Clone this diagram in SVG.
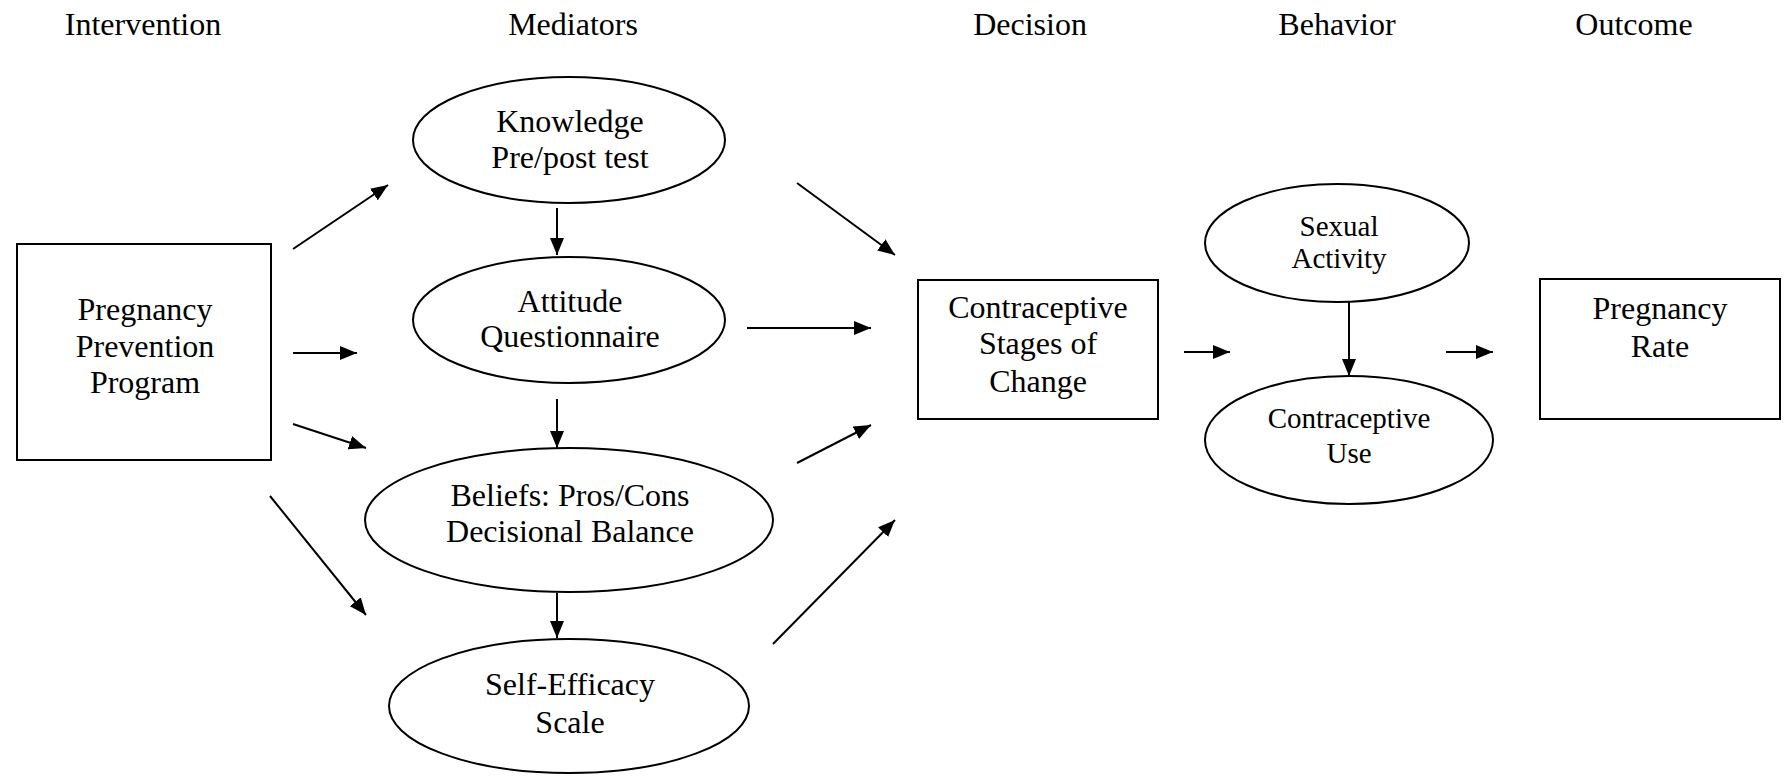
<svg xmlns="http://www.w3.org/2000/svg" width="1788" height="782" viewBox="0 0 1788 782">
<defs>
<marker id="ah" viewBox="0 0 17 14" refX="17" refY="7" markerWidth="17" markerHeight="14" markerUnits="userSpaceOnUse" orient="auto">
<path d="M0,0 L17,7 L0,14 z" fill="#000"/>
</marker>
</defs>
<style>
text{font-family:"Liberation Serif","Times New Roman",serif;font-size:32px;fill:#000;text-anchor:middle}
text.s{font-size:29px}
.n{fill:#fff;stroke:#000;stroke-width:2}
.c line{stroke:#000;stroke-width:2;marker-end:url(#ah)}
</style>
<rect width="1788" height="782" fill="#fff"/>
<g id="headers">
<text x="143" y="35">Intervention</text>
<text x="573" y="35">Mediators</text>
<text x="1030" y="35">Decision</text>
<text x="1337" y="35">Behavior</text>
<text x="1634" y="35">Outcome</text>
</g>
<g id="program">
<rect class="n" x="17" y="244" width="254" height="216"/>
<text x="145" y="320">Pregnancy</text>
<text x="145" y="357">Prevention</text>
<text x="145" y="393">Program</text>
</g>
<g id="knowledge">
<ellipse class="n" cx="569" cy="140" rx="156" ry="63"/>
<text x="570" y="132">Knowledge</text>
<text x="570" y="168">Pre/post test</text>
</g>
<g id="attitude">
<ellipse class="n" cx="569" cy="320" rx="156" ry="63"/>
<text x="570" y="312">Attitude</text>
<text x="570" y="347">Questionnaire</text>
</g>
<g id="beliefs">
<ellipse class="n" cx="569" cy="520" rx="204" ry="72"/>
<text x="570" y="506">Beliefs: Pros/Cons</text>
<text x="570" y="542">Decisional Balance</text>
</g>
<g id="selfefficacy">
<ellipse class="n" cx="569" cy="706" rx="180" ry="67"/>
<text x="570" y="695">Self-Efficacy</text>
<text x="570" y="733">Scale</text>
</g>
<g id="stages">
<rect class="n" x="918" y="280" width="240" height="139"/>
<text x="1038" y="318">Contraceptive</text>
<text x="1038" y="354">Stages of</text>
<text x="1038" y="392">Change</text>
</g>
<g id="sexual">
<ellipse class="n" cx="1337" cy="243" rx="132" ry="59"/>
<text class="s" x="1339" y="236">Sexual</text>
<text class="s" x="1339" y="268">Activity</text>
</g>
<g id="use">
<ellipse class="n" cx="1349" cy="440" rx="144" ry="64"/>
<text class="s" x="1349" y="428">Contraceptive</text>
<text class="s" x="1349" y="463">Use</text>
</g>
<g id="rate">
<rect class="n" x="1540" y="279" width="240" height="140"/>
<text x="1660" y="319">Pregnancy</text>
<text x="1660" y="357">Rate</text>
</g>
<g id="connectors" class="c">
<line x1="293" y1="249" x2="388" y2="185"/>
<line x1="293" y1="353" x2="357" y2="353"/>
<line x1="293" y1="424" x2="366" y2="448"/>
<line x1="270" y1="496" x2="366" y2="615"/>
<line x1="557" y1="208" x2="557" y2="255"/>
<line x1="557" y1="399" x2="557" y2="448"/>
<line x1="557" y1="593" x2="557" y2="638"/>
<line x1="797" y1="183" x2="895" y2="255"/>
<line x1="747" y1="328" x2="871" y2="328"/>
<line x1="797" y1="463" x2="871" y2="425"/>
<line x1="773" y1="644" x2="895" y2="520"/>
<line x1="1184" y1="352" x2="1230" y2="352"/>
<line x1="1349" y1="302" x2="1349" y2="376"/>
<line x1="1446" y1="352" x2="1493" y2="352"/>
</g>
</svg>
